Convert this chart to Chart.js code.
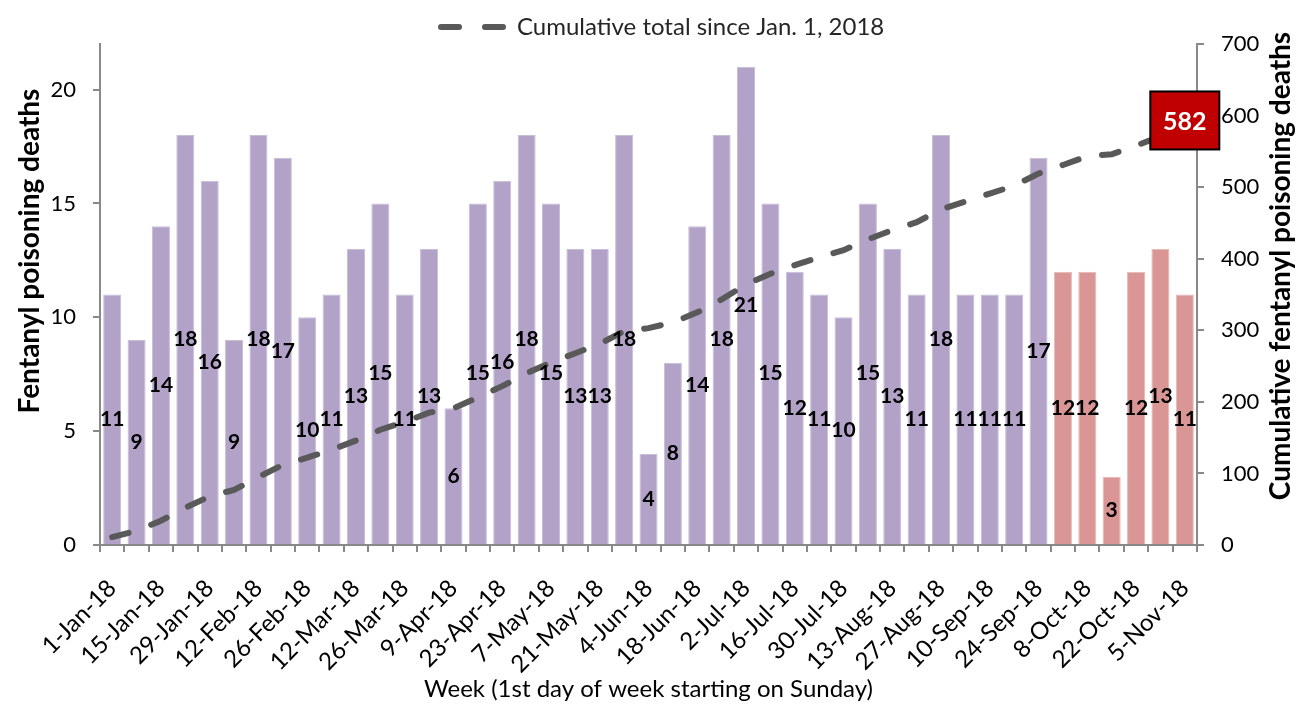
<!DOCTYPE html>
<html>
<head>
<meta charset="utf-8">
<script src="https://cdn.jsdelivr.net/npm/chart.js@4.4.1/dist/chart.umd.min.js"></script>
<style>
  html, body { margin: 0; padding: 0; background: #fff; }
  #wrap { width: 1298px; height: 704px; position: relative; }
</style>
</head>
<body>
<div id="wrap"><canvas id="chart"></canvas></div>
<script>
// weekly fentanyl deaths, 2018
const weeks = [
  '1-Jan-18', '8-Jan-18', '15-Jan-18', '22-Jan-18', '29-Jan-18', '5-Feb-18', '12-Feb-18', '19-Feb-18',
  '26-Feb-18', '5-Mar-18', '12-Mar-18', '19-Mar-18', '26-Mar-18', '2-Apr-18', '9-Apr-18', '16-Apr-18',
  '23-Apr-18', '30-Apr-18', '7-May-18', '14-May-18', '21-May-18', '28-May-18', '4-Jun-18', '11-Jun-18',
  '18-Jun-18', '25-Jun-18', '2-Jul-18', '9-Jul-18', '16-Jul-18', '23-Jul-18', '30-Jul-18', '6-Aug-18',
  '13-Aug-18', '20-Aug-18', '27-Aug-18', '3-Sep-18', '10-Sep-18', '17-Sep-18', '24-Sep-18', '1-Oct-18',
  '8-Oct-18', '15-Oct-18', '22-Oct-18', '29-Oct-18', '5-Nov-18'
];
const weeklyDeaths = [
  11, 9, 14, 18, 16, 9, 18, 17, 10, 11, 13, 15, 11, 13, 6, 15, 16, 18, 15, 13, 13, 18, 4,
  8, 14, 18, 21, 15, 12, 11, 10, 15, 13, 11, 18, 11, 11, 11, 17, 12, 12, 3, 12, 13, 11
];
const cumulativeDeaths = [
  11, 20, 34, 52, 68, 77, 95, 112, 122, 133, 146, 161, 172, 185, 191, 206, 222, 240, 255, 268, 281, 299, 303,
  311, 325, 343, 364, 379, 391, 402, 412, 427, 440, 451, 469, 480, 491, 502, 519, 531, 543, 546, 558, 571, 582
];
const recentFrom = 39; // last weeks drawn in red

const FONT = 'Lato, "Open Sans", sans-serif';
const PURPLE = '#b3a2c7';
const PINK = '#d99694';
const LINE = '#595959';
const AXIS = '#898989';
const lineLabel = 'Cumulative total since Jan. 1, 2018';

// legend + axis titles drawn by hand so they sit where the original has them
const decorPlugin = {
  id: 'decor',
  afterDraw(chart) {
    const ctx = chart.ctx;
    ctx.save();
    // legend
    ctx.strokeStyle = LINE;
    ctx.lineWidth = 6;
    ctx.lineCap = 'round';
    ctx.setLineDash([18, 26]);
    ctx.beginPath();
    ctx.moveTo(441, 27);
    ctx.lineTo(503, 27);
    ctx.stroke();
    ctx.setLineDash([]);
    ctx.fillStyle = '#262626';
    ctx.font = '24px ' + FONT;
    ctx.textAlign = 'left';
    ctx.textBaseline = 'middle';
    ctx.fillText(lineLabel, 517, 27);

    // y axis titles
    ctx.fillStyle = '#000';
    ctx.font = 'bold 28px ' + FONT;
    ctx.textAlign = 'center';
    ctx.save();
    ctx.translate(30, 251);
    ctx.rotate(-Math.PI / 2);
    ctx.fillText('Fentanyl poisoning deaths', 0, 0);
    ctx.restore();
    ctx.save();
    ctx.translate(1281, 266);
    ctx.rotate(-Math.PI / 2);
    ctx.fillText('Cumulative fentanyl poisoning deaths', 0, 0);
    ctx.restore();
    ctx.restore();
  }
};

// value labels in the middle of each bar + boxed final total
const labelsPlugin = {
  id: 'valueLabels',
  afterDatasetsDraw(chart) {
    const ctx = chart.ctx;
    const bars = chart.getDatasetMeta(0).data;
    ctx.save();
    ctx.font = 'bold 21px ' + FONT;
    ctx.fillStyle = '#000';
    ctx.textAlign = 'center';
    ctx.textBaseline = 'middle';
    bars.forEach((b, i) => {
      ctx.fillText(String(weeklyDeaths[i]), b.x, (b.y + b.base) / 2);
    });

    const pts = chart.getDatasetMeta(1).data;
    const last = pts[pts.length - 1];
    const w = 69, h = 58, cy = last.y - 8;
    ctx.fillStyle = '#c00000';
    ctx.strokeStyle = '#000';
    ctx.lineWidth = 2;
    ctx.fillRect(last.x - w / 2, cy - h / 2, w, h);
    ctx.strokeRect(last.x - w / 2, cy - h / 2, w, h);
    ctx.fillStyle = '#fff';
    ctx.font = 'bold 25px ' + FONT;
    ctx.fillText(String(cumulativeDeaths[cumulativeDeaths.length - 1]), last.x, cy + 1);
    ctx.restore();
  }
};

new Chart(document.getElementById('chart'), {
  data: {
    labels: weeks,
    datasets: [
      {
        type: 'bar',
        label: 'Weekly deaths',
        data: weeklyDeaths,
        backgroundColor: c => c.dataIndex >= recentFrom ? PINK : PURPLE,
        borderColor: c => c.dataIndex >= recentFrom ? '#e6b8b7' : '#c9bdd9',
        borderWidth: 1,
        barPercentage: 0.74,
        categoryPercentage: 1,
        yAxisID: 'y',
        order: 2
      },
      {
        type: 'line',
        label: lineLabel,
        data: cumulativeDeaths,
        borderColor: LINE,
        backgroundColor: LINE,
        borderWidth: 6,
        borderDash: [17, 24],
        borderCapStyle: 'round',
        pointRadius: 0,
        tension: 0,
        yAxisID: 'y1',
        order: 1
      }
    ]
  },
  options: {
    responsive: true,
    maintainAspectRatio: false,
    animation: false,
    layout: { padding: { top: 44, left: 0, right: 0, bottom: 0 } },
    plugins: {
      legend: { display: false },
      tooltip: { enabled: false }
    },
    scales: {
      x: {
        offset: true,
        afterFit: s => { s.height = 159; },
        grid: { display: true, drawOnChartArea: false, offset: true, tickLength: 7, color: AXIS, lineWidth: 2 },
        border: { color: AXIS, width: 2 },
        ticks: {
          autoSkip: false,
          maxRotation: 45,
          minRotation: 45,
          padding: 22,
          color: '#000',
          font: { family: FONT, size: 24 },
          callback: (v, i) => i % 2 === 0 ? weeks[i] : ''
        },
        title: {
          display: true,
          text: 'Week (1st day of week starting on Sunday)',
          color: '#000',
          font: { family: FONT, size: 24 },
          padding: { top: 4, bottom: 0 }
        }
      },
      y: {
        position: 'left',
        min: 0,
        max: 22,
        afterFit: s => { s.width = 100; },
        afterBuildTicks: s => { s.ticks = s.ticks.filter(t => t.value % 5 === 0); },
        grid: { display: true, drawOnChartArea: false, tickLength: 7, color: AXIS, lineWidth: 2 },
        border: { color: AXIS, width: 2 },
        ticks: { stepSize: 5, padding: 17, color: '#000', font: { family: FONT, size: 22 } }
      },
      y1: {
        position: 'right',
        min: 0,
        max: 700,
        afterFit: s => { s.width = 101; },
        grid: { display: true, drawOnChartArea: false, tickLength: 7, color: AXIS, lineWidth: 2 },
        border: { color: AXIS, width: 2 },
        ticks: { stepSize: 100, padding: 17, color: '#000', font: { family: FONT, size: 22 } }
      }
    }
  },
  plugins: [labelsPlugin, decorPlugin]
});
</script>
</body>
</html>
